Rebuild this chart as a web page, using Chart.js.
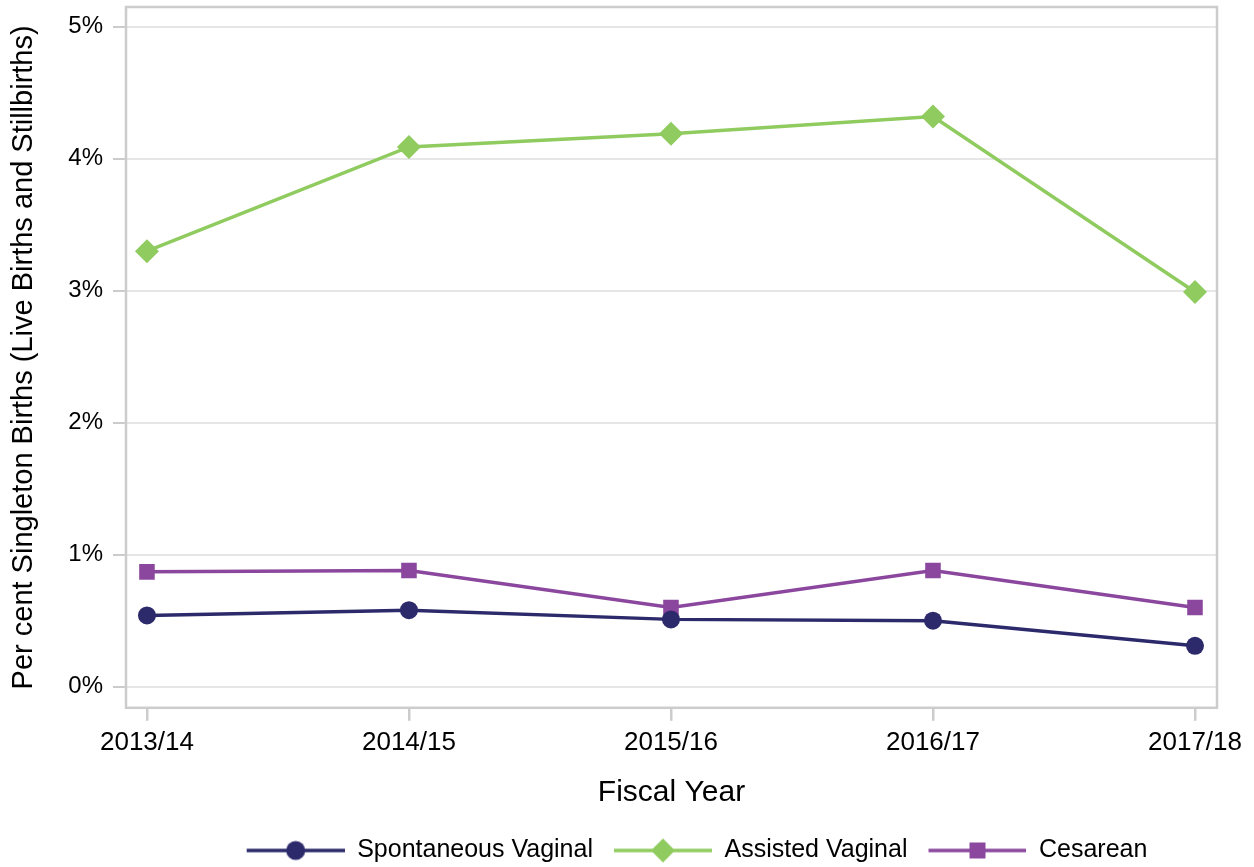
<!DOCTYPE html>
<html>
<head>
<meta charset="utf-8">
<script src="https://cdn.jsdelivr.net/npm/chart.js@4"></script>
<style>
  html, body { margin: 0; padding: 0; background: #fff; }
  #wrap { width: 1254px; height: 867px; }
</style>
</head>
<body>
<div id="wrap"><canvas id="birthChart" width="1254" height="867"></canvas></div>
<script>
const years = ["2013/14", "2014/15", "2015/16", "2016/17", "2017/18"];
const spontaneous = [0.54, 0.58, 0.51, 0.50, 0.31];
const assisted = [3.30, 4.09, 4.19, 4.32, 2.99];
const cesarean = [0.87, 0.88, 0.60, 0.88, 0.60];
const yTicks = [0, 1, 2, 3, 4, 5];

const series = [
  { label: "Spontaneous Vaginal", data: spontaneous, color: "#2c2a6b", style: "circle", radius: 9 },
  { label: "Assisted Vaginal", data: assisted, color: "#8fcb5f", style: "rectRot", radius: 12 },
  { label: "Cesarean", data: cesarean, color: "#8b479d", style: "rect", radius: 11 }
];

const fontFamily = "'Liberation Sans', Arial, sans-serif";

// legend swatch: short line with the marker in the middle (transparent gap on the left)
function legendSwatch(s) {
  const c = document.createElement("canvas");
  c.width = 111; c.height = 26;
  const g = c.getContext("2d");
  const x0 = 13, cx = x0 + 49;
  g.strokeStyle = s.color;
  g.fillStyle = s.color;
  g.lineWidth = 3.5;
  g.beginPath(); g.moveTo(x0, 13); g.lineTo(111, 13); g.stroke();
  g.beginPath();
  if (s.style === "circle") {
    g.arc(cx, 13, 9.5, 0, Math.PI * 2);
  } else if (s.style === "rectRot") {
    g.moveTo(cx, 1); g.lineTo(cx + 12, 13); g.lineTo(cx, 25); g.lineTo(cx - 12, 13); g.closePath();
  } else {
    g.rect(cx - 8, 5, 16, 16);
  }
  g.fill();
  return c;
}

const framePlugin = {
  id: "frame",
  afterLayout(chart) {
    // the reference legend sits right of centre and a little lower
    chart.legend.left += 82;
    chart.legend.right += 82;
    chart.legend.top += 6;
    chart.legend.bottom += 6;
  },
  beforeDatasetsDraw(chart) {
    const a = chart.chartArea;
    const ctx = chart.ctx;
    ctx.save();
    ctx.strokeStyle = "#cccccc";
    ctx.lineWidth = 2.5;
    ctx.strokeRect(a.left, a.top, a.right - a.left, a.bottom - a.top);
    ctx.restore();
  }
};

const ctx = document.getElementById("birthChart").getContext("2d");

new Chart(ctx, {
  type: "line",
  data: {
    datasets: series.map(s => ({
      label: s.label,
      data: s.data.map((v, i) => ({ x: i, y: v })),
      borderColor: s.color,
      backgroundColor: s.color,
      borderWidth: 3.5,
      pointStyle: s.style,
      pointRadius: s.radius,
      pointBorderWidth: 0,
      tension: 0
    }))
  },
  options: {
    responsive: false,
    animation: false,
    layout: { autoPadding: false, padding: { left: 0, right: 37, top: 7, bottom: 0 } },
    plugins: {
      tooltip: { enabled: false },
      legend: {
        position: "bottom",
        labels: {
          usePointStyle: true,
          pointStyleWidth: 111,
          padding: 8,
          color: "#000",
          font: { family: fontFamily, size: 25 },
          generateLabels() {
            return series.map((s, i) => ({
              text: s.label,
              pointStyle: legendSwatch(s),
              fillStyle: s.color,
              strokeStyle: s.color,
              lineWidth: 0,
              fontColor: "#000",
              datasetIndex: i,
              hidden: false
            }));
          }
        }
      }
    },
    scales: {
      x: {
        type: "linear",
        min: -0.08,
        max: 4.084,
        afterBuildTicks(scale) { scale.ticks = years.map((y, i) => ({ value: i })); },
        ticks: {
          color: "#000",
          padding: 6,
          maxRotation: 0,
          font: { family: fontFamily, size: 26 },
          callback: v => years[v]
        },
        grid: { drawOnChartArea: false, tickLength: 13, tickColor: "#cccccc", lineWidth: 2.5 },
        border: { display: false },
        title: {
          display: true,
          text: "Fiscal Year",
          color: "#000",
          font: { family: fontFamily, size: 30 },
          padding: { top: 11, bottom: 13 }
        }
      },
      y: {
        min: -0.16,
        max: 5.15,
        afterBuildTicks(scale) { scale.ticks = yTicks.map(v => ({ value: v })); },
        afterFit(scale) {
          scale.width = 126;
          scale.paddingTop = 0;
          scale.paddingBottom = 0;
        },
        ticks: {
          color: "#000",
          padding: 10,
          font: { family: fontFamily, size: 24 },
          callback: v => v + "%"
        },
        grid: { color: "#e6e6e6", lineWidth: 2, tickLength: 13, tickColor: "#cccccc" },
        border: { display: false },
        title: {
          display: true,
          text: "Per cent Singleton Births (Live Births and Stillbirths)",
          color: "#000",
          font: { family: fontFamily, size: 29 },
          padding: { top: 7, bottom: 0 }
        }
      }
    }
  },
  plugins: [framePlugin]
});
</script>
</body>
</html>
